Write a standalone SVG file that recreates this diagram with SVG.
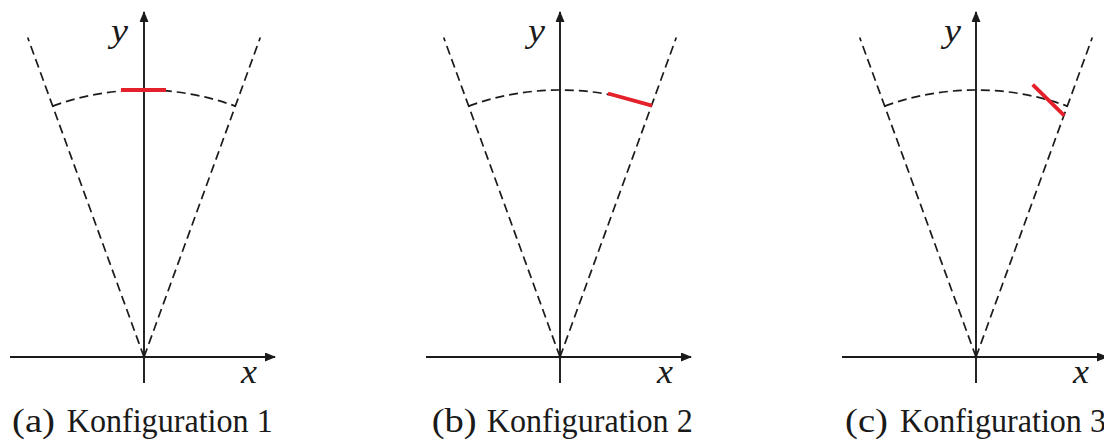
<svg xmlns="http://www.w3.org/2000/svg" width="1104" height="441" viewBox="0 0 1104 441">
<style>
.axis{stroke:#1a1a1a;stroke-width:1.9;fill:none}
.dash{stroke:#1a1a1a;stroke-width:1.7;fill:none;stroke-dasharray:9 5}
.red{stroke:#e4202a;stroke-width:3.8;fill:none}
.math{font-family:"Liberation Serif","Times New Roman",serif;font-style:italic;font-size:34px;fill:#1a1a1a}
.cap{font-family:"Liberation Serif","Times New Roman",serif;font-size:33px;fill:#1a1a1a}
</style>
<defs>
<marker id="arr" markerUnits="userSpaceOnUse" markerWidth="12" markerHeight="10" refX="10" refY="4.5" orient="auto">
<path d="M0,0 L11,4.5 L0,9 Z" fill="#1a1a1a"/>
</marker>
</defs>
<g id="connectors">
<g id="axes-a" transform="translate(144,357)">
<line class="axis" x1="-134" y1="0" x2="131" y2="0" marker-end="url(#arr)"/>
<line class="axis" x1="0" y1="26" x2="0" y2="-345" marker-end="url(#arr)"/>
<path class="dash" d="M0,0 L-116.29,-319.5 M0,0 L116.29,-319.5"/>
<path class="dash" d="M-91.32,-250.9 A267,267 0 0 1 91.32,-250.9"/>
</g>
<g id="axes-b" transform="translate(560,357)">
<line class="axis" x1="-134" y1="0" x2="131" y2="0" marker-end="url(#arr)"/>
<line class="axis" x1="0" y1="26" x2="0" y2="-345" marker-end="url(#arr)"/>
<path class="dash" d="M0,0 L-116.29,-319.5 M0,0 L116.29,-319.5"/>
<path class="dash" d="M-91.32,-250.9 A267,267 0 0 1 91.32,-250.9"/>
</g>
<g id="axes-c" transform="translate(976,357)">
<line class="axis" x1="-134" y1="0" x2="131" y2="0" marker-end="url(#arr)"/>
<line class="axis" x1="0" y1="26" x2="0" y2="-345" marker-end="url(#arr)"/>
<path class="dash" d="M0,0 L-116.29,-319.5 M0,0 L116.29,-319.5"/>
<path class="dash" d="M-91.32,-250.9 A267,267 0 0 1 91.32,-250.9"/>
</g>
</g>
<g id="segment-a"><line class="red" x1="121" y1="90" x2="166" y2="90"/></g>
<g id="segment-b"><line class="red" x1="608" y1="93.5" x2="652" y2="105.7"/></g>
<g id="segment-c"><line class="red" x1="1032.7" y1="84.7" x2="1064.3" y2="115.7"/></g>
<g id="labels-a">
<text class="math" x="111" y="42" textLength="17" lengthAdjust="spacingAndGlyphs">y</text>
<text class="math" x="241" y="383" textLength="16" lengthAdjust="spacingAndGlyphs">x</text>
</g>
<g id="labels-b">
<text class="math" x="528" y="42" textLength="17" lengthAdjust="spacingAndGlyphs">y</text>
<text class="math" x="657" y="383" textLength="16" lengthAdjust="spacingAndGlyphs">x</text>
</g>
<g id="labels-c">
<text class="math" x="944" y="42" textLength="17" lengthAdjust="spacingAndGlyphs">y</text>
<text class="math" x="1073" y="383" textLength="16" lengthAdjust="spacingAndGlyphs">x</text>
</g>
<g id="caption-a">
<text class="cap" x="12" y="432" textLength="43" lengthAdjust="spacingAndGlyphs">(a)</text>
<text class="cap" x="66.7" y="432" textLength="206" lengthAdjust="spacingAndGlyphs">Konfiguration 1</text>
</g>
<g id="caption-b">
<text class="cap" x="431.7" y="432" textLength="45" lengthAdjust="spacingAndGlyphs">(b)</text>
<text class="cap" x="486.7" y="432" textLength="206" lengthAdjust="spacingAndGlyphs">Konfiguration 2</text>
</g>
<g id="caption-c">
<text class="cap" x="845" y="432" textLength="43" lengthAdjust="spacingAndGlyphs">(c)</text>
<text class="cap" x="900" y="432" textLength="206" lengthAdjust="spacingAndGlyphs">Konfiguration 3</text>
</g>
</svg>
